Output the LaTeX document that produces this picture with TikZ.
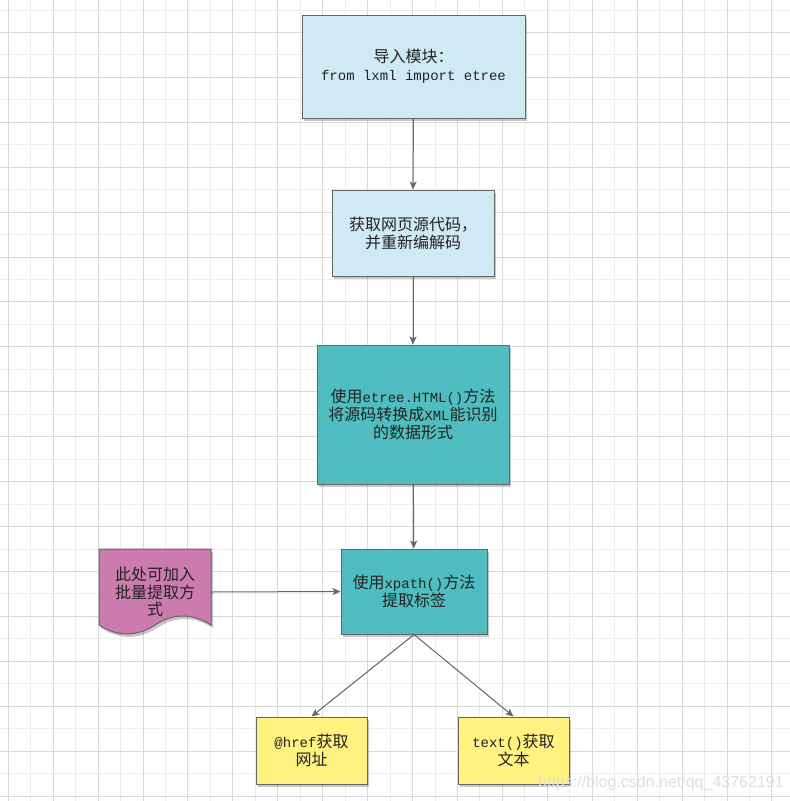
\documentclass[tikz,border=0pt]{standalone}
\usepackage{fontspec}
\setmainfont{Noto Sans CJK SC}
\setmonofont{Liberation Mono}
\newfontfamily\wmfont{Liberation Sans}
\usetikzlibrary{arrows.meta,shadows}
\definecolor{gridlight}{RGB}{237,237,237}
\definecolor{griddark}{RGB}{217,217,217}
\definecolor{lblue}{RGB}{208,234,245}
\definecolor{tealbox}{RGB}{80,190,192}
\definecolor{pinkdoc}{RGB}{204,123,174}
\definecolor{yelbox}{RGB}{255,242,128}
\definecolor{bord}{RGB}{102,102,102}
\definecolor{txt}{RGB}{34,34,34}
\definecolor{wmgray}{RGB}{222,222,222}
\newcommand\mn[1]{{\fontsize{14}{18}\ttfamily #1}}
\begin{document}
\begin{tikzpicture}[x=1pt,y=-1pt,
  shad/.style={drop shadow={shadow xshift=2pt,shadow yshift=-3pt,opacity=0.22,fill=black}},
  box/.style={draw=bord,line width=1pt,text=txt,align=center,inner sep=0pt,
    font=\fontsize{16}{18}\selectfont,shad},
  bluebox/.style={box,fill=lblue},
  tealb/.style={box,fill=tealbox},
  yelb/.style={box,fill=yelbox},
  conn/.style={draw=bord,line width=1pt,-{Stealth[length=8pt,width=7pt,inset=2pt]}},
  gl/.style={draw=gridlight,line width=1pt},
  gd/.style={draw=griddark,line width=1pt}
]
\useasboundingbox (0,0) rectangle (790,801);
\fill[white] (0,0) rectangle (790,801);
% grid
\foreach \x in {30.76,75.68,...,790} \draw[gl] (\x,0) -- (\x,801);
\foreach \y in {10,54.92,...,801} \draw[gl] (0,\y) -- (790,\y);
\foreach \x in {8.3,53.22,...,790} \draw[gd] (\x,0) -- (\x,801);
\foreach \y in {32.46,77.38,...,801} \draw[gd] (0,\y) -- (790,\y);

% boxes
\node[bluebox,minimum width=223pt,minimum height=103pt] (b1) at (413.5,66.5)
  {导入模块：\\\mn{from lxml import etree}};
\node[bluebox,minimum width=162pt,minimum height=86pt] (b2) at (413,233)
  {获取网页源代码，\\并重新编解码};
\node[tealb,minimum width=192pt,minimum height=139pt] (b3) at (413,414.5)
  {使用\mn{etree.HTML()}方法\\将源码转换成\mn{XML}能识别\\的数据形式};
\node[tealb,minimum width=146pt,minimum height=85pt] (b4) at (414,591.5)
  {使用\mn{xpath()}方法\\提取标签};

% document shape
\path[fill=pinkdoc,draw=bord,line width=1pt,shad] (99,549) -- (211,549) -- (211,625)
  .. controls (192.33,613) and (173.67,613) .. (155,625)
  .. controls (136.33,637) and (117.67,637) .. (99,625) -- cycle;
\node[text=txt,align=center,inner sep=0pt,font=\fontsize{16}{17.5}\selectfont,
  minimum width=112pt,minimum height=86pt] (doc) at (155,592)
  {此处可加入\\批量提取方\\式};

\node[yelb,minimum width=111pt,minimum height=67pt] (c1) at (311.5,750.5)
  {\mn{@href}获取\\网址};
\node[yelb,minimum width=111pt,minimum height=67pt] (c2) at (513.5,750.5)
  {\mn{text()}获取\\文本};

% connectors
\draw[conn] (b1) -- (b2);
\draw[conn] (b2) -- (b3);
\draw[conn] (b3) -- (b4);
\draw[conn] (doc.east) -- (b4.west);
\draw[conn] (b4.south) -- (c1.north);
\draw[conn] (b4.south) -- (c2.north);

% watermark
\node[anchor=base west,inner sep=0pt,text=wmgray,font=\wmfont\fontsize{16}{18}\selectfont] (wm)
  at (538,787) {https://blog.csdn.net/qq\_43762191};
\end{tikzpicture}
\end{document}
